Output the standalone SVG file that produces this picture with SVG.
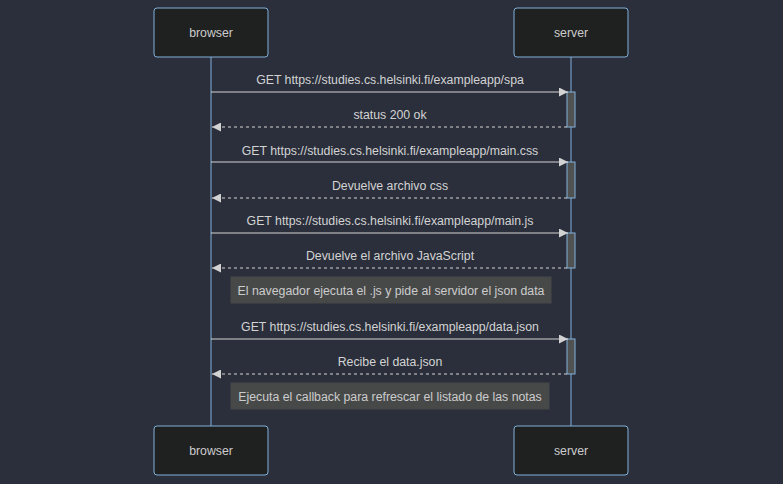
<svg xmlns="http://www.w3.org/2000/svg" width="783" height="484" viewBox="0 0 783 484">
<style>
.actor{fill:#1f2020;stroke:#81b1db;stroke-width:1}
.atext{font-family:"Liberation Sans",Arial,sans-serif;font-size:12.3px;fill:#cccccc;text-anchor:middle;dominant-baseline:central}
.life{stroke:#81b1db;stroke-width:1}
.act{fill:#505252;stroke:#81b1db;stroke-width:1}
.msg{stroke:#d3d3d3;stroke-width:1.2;fill:none}
.dot{stroke-dasharray:3,3}
.mtext{font-family:"Liberation Sans",Arial,sans-serif;font-size:12.3px;fill:#d3d3d3;text-anchor:middle;dominant-baseline:central}
.note{fill:#474949;stroke:#474949}
.ntext{font-family:"Liberation Sans",Arial,sans-serif;font-size:12.3px;fill:#cccccc;text-anchor:middle;dominant-baseline:central}
</style>
<defs>
<marker id="ah" viewBox="0 0 10 10" refX="10" refY="5" markerWidth="10" markerHeight="9" markerUnits="userSpaceOnUse" orient="auto">
<path d="M0,0 L10,5 L0,10 z" fill="#d3d3d3"/>
</marker>
</defs>
<rect width="783" height="484" fill="#2a2f3b"/>
<g id="lifelines">
<line class="life" x1="211" y1="57" x2="211" y2="426"/>
<line class="life" x1="571" y1="57" x2="571" y2="426"/>
</g>
<g id="browser-top"><rect class="actor" x="154" y="8" width="114" height="49" rx="3"/><text class="atext" x="211" y="32.5">browser</text></g>
<g id="server-top"><rect class="actor" x="514" y="8" width="114" height="49" rx="3"/><text class="atext" x="571" y="32.5">server</text></g>
<g id="browser-bottom"><rect class="actor" x="154" y="426" width="114" height="49" rx="3"/><text class="atext" x="211" y="450.5">browser</text></g>
<g id="server-bottom"><rect class="actor" x="514" y="426" width="114" height="49" rx="3"/><text class="atext" x="571" y="450.5">server</text></g>
<g id="activations">
<rect class="act" x="567" y="92" width="8" height="35"/>
<rect class="act" x="567" y="162" width="8" height="36"/>
<rect class="act" x="567" y="233" width="8" height="35"/>
<rect class="act" x="567" y="339" width="8" height="35"/>
</g>
<g id="connectors">
<line class="msg" x1="211" y1="92" x2="568" y2="92" marker-end="url(#ah)"/>
<text class="mtext" x="390" y="79.5">GET https://studies.cs.helsinki.fi/exampleapp/spa</text>
<line class="msg dot" x1="567" y1="127" x2="212" y2="127" marker-end="url(#ah)"/>
<text class="mtext" x="390" y="114.5">status 200 ok</text>
<line class="msg" x1="211" y1="162" x2="568" y2="162" marker-end="url(#ah)"/>
<text class="mtext" x="390" y="150.5">GET https://studies.cs.helsinki.fi/exampleapp/main.css</text>
<line class="msg dot" x1="567" y1="198" x2="212" y2="198" marker-end="url(#ah)"/>
<text class="mtext" x="390" y="185.5">Devuelve archivo css</text>
<line class="msg" x1="211" y1="233" x2="568" y2="233" marker-end="url(#ah)"/>
<text class="mtext" x="390" y="220.5">GET https://studies.cs.helsinki.fi/exampleapp/main.js</text>
<line class="msg dot" x1="567" y1="268" x2="212" y2="268" marker-end="url(#ah)"/>
<text class="mtext" x="390" y="255.5">Devuelve el archivo JavaScript</text>
<line class="msg" x1="211" y1="339" x2="568" y2="339" marker-end="url(#ah)"/>
<text class="mtext" x="390" y="326.5">GET https://studies.cs.helsinki.fi/exampleapp/data.json</text>
<line class="msg dot" x1="567" y1="374" x2="212" y2="374" marker-end="url(#ah)"/>
<text class="mtext" x="390" y="361.5">Recibe el data.json</text>
</g>
<g id="note1"><rect class="note" x="231" y="277" width="320" height="26"/><text class="ntext" x="391" y="290.5">El navegador ejecuta el .js y pide al servidor el json data</text></g>
<g id="note2"><rect class="note" x="231" y="383" width="318" height="26"/><text class="ntext" x="390" y="396.5">Ejecuta el callback para refrescar el listado de las notas</text></g>
</svg>
